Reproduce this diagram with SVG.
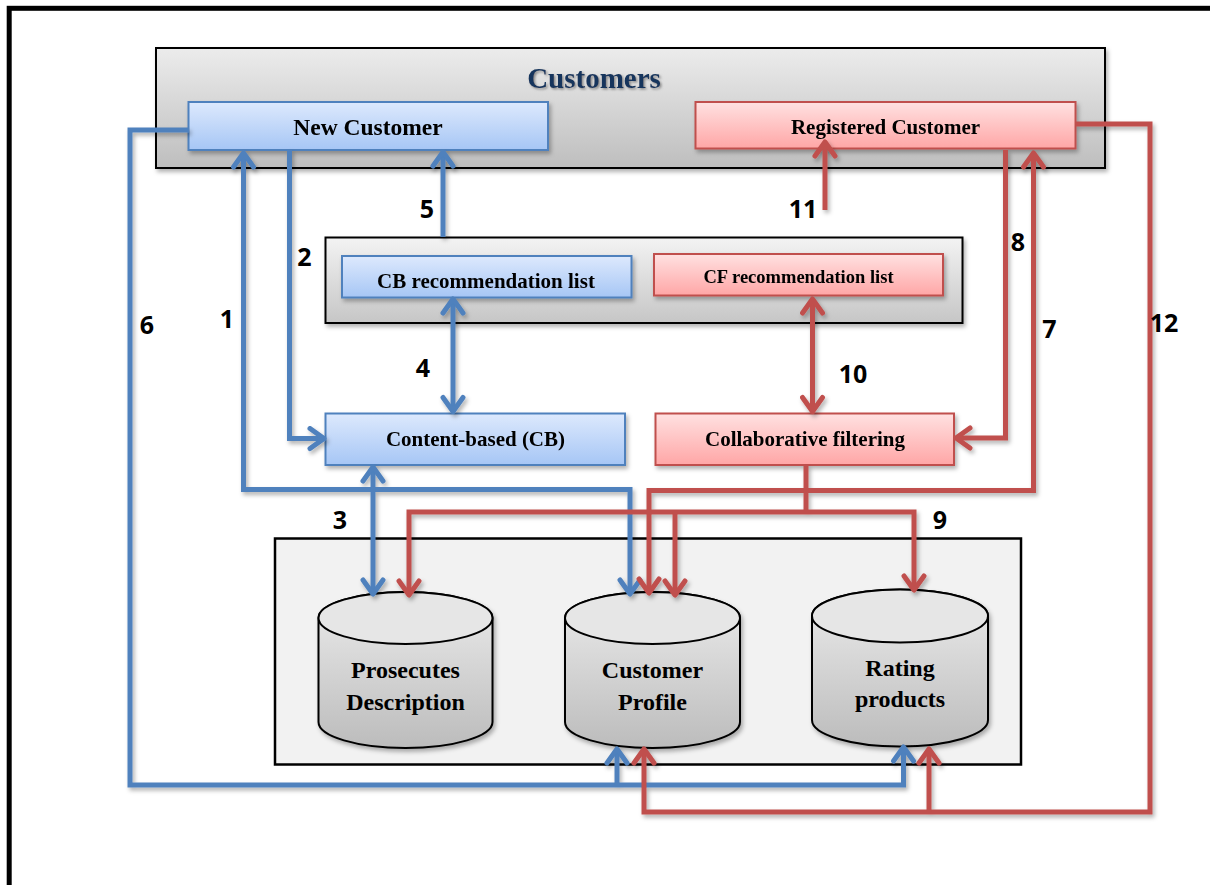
<svg xmlns="http://www.w3.org/2000/svg" width="1210" height="885" viewBox="0 0 1210 885">
<defs>
<style>
.nt{font-family:"Liberation Serif","Times New Roman",serif;font-weight:bold;fill:#000;text-anchor:middle}
.num{font-family:"Open Sans","Liberation Sans",sans-serif;font-weight:bold;font-size:25px;fill:#000;text-anchor:middle}
.bl{fill:none;stroke:#4f81bd;stroke-width:5}
.rd{fill:none;stroke:#c0504d;stroke-width:5}
.bnode{fill:url(#gBlue);stroke:#4f81bd;stroke-width:2}
.rnode{fill:url(#gRed);stroke:#c0504d;stroke-width:2}
.cyl{fill:url(#gCyl);stroke:#000;stroke-width:2}
.cyltop{fill:#e6e6e6;stroke:#000;stroke-width:2}
</style>
<linearGradient id="gBlue" x1="0" y1="0" x2="0" y2="1"><stop offset="0" stop-color="#dde9fd"/><stop offset="1" stop-color="#a6c6f5"/></linearGradient>
<linearGradient id="gRed" x1="0" y1="0" x2="0" y2="1"><stop offset="0" stop-color="#ffe1e1"/><stop offset="1" stop-color="#ffa6a6"/></linearGradient>
<linearGradient id="gGray" x1="0" y1="0" x2="0" y2="1"><stop offset="0" stop-color="#ececec"/><stop offset="1" stop-color="#bebebe"/></linearGradient>
<linearGradient id="gGray2" x1="0" y1="0" x2="0" y2="1"><stop offset="0" stop-color="#f3f3f3"/><stop offset="1" stop-color="#c6c6c6"/></linearGradient>
<linearGradient id="gCyl" x1="0" y1="0" x2="0" y2="1"><stop offset="0" stop-color="#ececec"/><stop offset="1" stop-color="#bcbcbc"/></linearGradient>
<filter id="sh" x="-10%" y="-10%" width="130%" height="140%"><feDropShadow dx="2" dy="3" stdDeviation="2" flood-color="#000" flood-opacity="0.3"/></filter>
<filter id="tsh" x="-10%" y="-20%" width="130%" height="160%"><feDropShadow dx="1.5" dy="1.5" stdDeviation="0.8" flood-color="#6f6f6f" flood-opacity="0.8"/></filter>
<marker id="ab" viewBox="-18 -13 22 26" markerWidth="22" markerHeight="26" refX="0" refY="0" orient="auto-start-reverse" markerUnits="userSpaceOnUse">
<path d="M-14,-10 L0,0 L-14,10" fill="none" stroke="#4f81bd" stroke-width="5" stroke-linecap="round" stroke-linejoin="round"/>
</marker>
<marker id="ar" viewBox="-18 -13 22 26" markerWidth="22" markerHeight="26" refX="0" refY="0" orient="auto-start-reverse" markerUnits="userSpaceOnUse">
<path d="M-14,-10 L0,0 L-14,10" fill="none" stroke="#c0504d" stroke-width="5" stroke-linecap="round" stroke-linejoin="round"/>
</marker>
</defs>
<rect x="0" y="0" width="1210" height="885" fill="#fff"/>
<rect x="9.2" y="8.3" width="1300" height="1000" fill="none" stroke="#000" stroke-width="5"/>

<g id="customers">
<rect x="156" y="48" width="949" height="120" fill="url(#gGray)" stroke="#000" stroke-width="2" filter="url(#sh)"/>
<text x="594" y="88" class="nt" font-size="29" fill="#17365d" style="fill:#17365d" filter="url(#tsh)">Customers</text>
</g>
<g id="recommendation-lists">
<rect x="325.5" y="237.5" width="637" height="85.5" fill="url(#gGray2)" stroke="#000" stroke-width="2" filter="url(#sh)"/>
</g>
<g id="databases">
<rect x="275" y="538.5" width="746" height="226" fill="#f2f2f2" stroke="#000" stroke-width="2.5"/>
</g>

<g id="new-customer" filter="url(#sh)">
<rect class="bnode" x="188.5" y="102" width="359.5" height="48"/>
<text class="nt" x="368" y="135" font-size="23.5">New Customer</text>
</g>
<g id="registered-customer" filter="url(#sh)">
<rect class="rnode" x="695.5" y="102" width="380" height="46.5"/>
<text class="nt" x="885.5" y="134" font-size="21">Registered Customer</text>
</g>
<g id="cb-list" filter="url(#sh)">
<rect class="bnode" x="342" y="256" width="289.5" height="41.5"/>
<text class="nt" x="486" y="287.5" font-size="21">CB recommendation list</text>
</g>
<g id="cf-list" filter="url(#sh)">
<rect class="rnode" x="654" y="254" width="289" height="41.5"/>
<text class="nt" x="798.5" y="282.5" font-size="18.5">CF recommendation list</text>
</g>
<g id="content-based" filter="url(#sh)">
<rect class="bnode" x="325.5" y="413.5" width="299.5" height="51.5"/>
<text class="nt" x="475.5" y="446" font-size="21">Content-based (CB)</text>
</g>
<g id="collaborative-filtering" filter="url(#sh)">
<rect class="rnode" x="655.5" y="413.5" width="298.5" height="51.5"/>
<text class="nt" x="805" y="446" font-size="21">Collaborative filtering</text>
</g>

<g id="prosecutes-description">
<path class="cyl" filter="url(#sh)" d="M318.5,618 V722 A87,26 0 0 0 492.5,722 V618 A87,26 0 0 0 318.5,618 Z"/>
<ellipse class="cyltop" cx="405.5" cy="618" rx="87" ry="26"/>
<text class="nt" x="405.5" y="678" font-size="24">Prosecutes</text>
<text class="nt" x="405.5" y="709.5" font-size="24">Description</text>
</g>
<g id="customer-profile">
<path class="cyl" filter="url(#sh)" d="M565,618 V722 A87.5,26 0 0 0 740,722 V618 A87.5,26 0 0 0 565,618 Z"/>
<ellipse class="cyltop" cx="652.5" cy="618" rx="87.5" ry="26"/>
<text class="nt" x="652.5" y="678" font-size="24">Customer</text>
<text class="nt" x="652.5" y="709.5" font-size="24">Profile</text>
</g>
<g id="rating-products">
<path class="cyl" filter="url(#sh)" d="M812,616 V720 A88,26.5 0 0 0 988,720 V616 A88,26.5 0 0 0 812,616 Z"/>
<ellipse class="cyltop" cx="900" cy="616" rx="88" ry="26.5"/>
<text class="nt" x="900" y="676" font-size="24">Rating</text>
<text class="nt" x="900" y="707" font-size="24">products</text>
</g>

<g id="connectors" filter="url(#sh)">
<path class="bl" d="M243.5,153 V489.5 H630 V594" marker-start="url(#ab)" marker-end="url(#ab)"/>
<path class="bl" d="M289.5,150 V438.5 H324" marker-end="url(#ab)"/>
<path class="bl" d="M373,467 V594" marker-start="url(#ab)" marker-end="url(#ab)"/>
<path class="bl" d="M453,299 V411.5" marker-start="url(#ab)" marker-end="url(#ab)"/>
<path class="bl" d="M443,237 V152" marker-end="url(#ab)"/>
<path class="bl" d="M189,130 H130 V785 H903.5 V747" marker-end="url(#ab)"/>
<path class="bl" d="M617,785 V749" marker-end="url(#ab)"/>
<path class="rd" d="M1033.5,153 V490.5 H649 V593" marker-start="url(#ar)" marker-end="url(#ar)"/>
<path class="rd" d="M1005.5,150 V438 H956" marker-end="url(#ar)"/>
<path class="rd" d="M806,465 V512"/>
<path class="rd" d="M409,595 V512 H914 V590" marker-start="url(#ar)" marker-end="url(#ar)"/>
<path class="rd" d="M675,512 V595" marker-end="url(#ar)"/>
<path class="rd" d="M812.5,299 V411.5" marker-start="url(#ar)" marker-end="url(#ar)"/>
<path class="rd" d="M825,210 V142" marker-end="url(#ar)"/>
<path class="rd" d="M1076,124 H1150 V812 H644 V749" marker-end="url(#ar)"/>
<path class="rd" d="M929,812 V749" marker-end="url(#ar)"/>
</g>

<g id="labels">
<text class="num" x="227" y="328">1</text>
<text class="num" x="304.5" y="265.5">2</text>
<text class="num" x="340" y="529">3</text>
<text class="num" x="423" y="377">4</text>
<text class="num" x="427" y="218">5</text>
<text class="num" x="147" y="334">6</text>
<text class="num" x="1049.5" y="338">7</text>
<text class="num" x="1018" y="250.5">8</text>
<text class="num" x="940" y="529">9</text>
<text class="num" x="853" y="383">10</text>
<text class="num" x="803" y="218">11</text>
<text class="num" x="1164" y="331.5">12</text>
</g>
</svg>
